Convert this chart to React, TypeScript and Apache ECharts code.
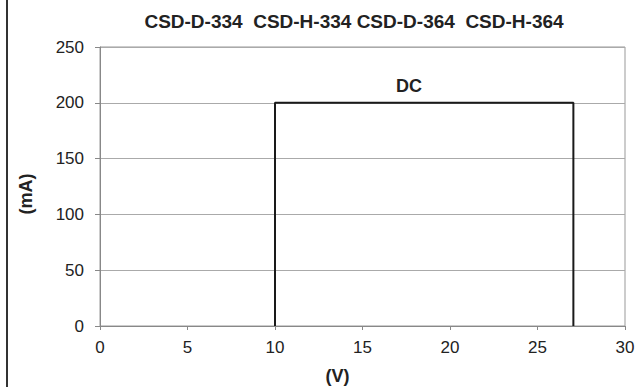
import React, { useEffect, useRef } from "react";
import * as echarts from "echarts";

const titleText = "CSD-D-334  CSD-H-334 CSD-D-364  CSD-H-364";
const voltage = [10, 10, 27.05, 27.05];
const current = [0, 200, 200, 0];
const xTicks = [0, 5, 10, 15, 20, 25, 30];
const yTicks = [0, 50, 100, 150, 200, 250];
const regionLabel = "DC";

const FONT = "'Liberation Sans', Arial, sans-serif";

export default function App() {
  const ref = useRef<HTMLDivElement>(null);
  useEffect(() => {
    if (!ref.current) return;
    const chart = echarts.init(ref.current, undefined, { renderer: "svg" });
    chart.setOption({
      animation: false,
      backgroundColor: "#ffffff",
      textStyle: { fontFamily: FONT },
      grid: {
        left: 100,
        right: 12,
        top: 47,
        bottom: 61,
        show: true,
        borderColor: "#999",
        borderWidth: 1,
        outerBoundsMode: "none",
        containLabel: false,
      },
      xAxis: {
        type: "value",
        min: xTicks[0],
        max: xTicks[xTicks.length - 1],
        interval: 5,
        name: "(V)",
        nameLocation: "middle",
        nameGap: 41,
        nameTextStyle: {
          fontFamily: FONT,
          fontSize: 18,
          fontWeight: "bold",
          color: "#222",
          padding: [0, 50, 0, 0],
        },
        axisLine: { show: true, onZero: false, lineStyle: { color: "#888", width: 1 } },
        axisTick: { show: true, length: 4, lineStyle: { color: "#888" } },
        axisLabel: { fontFamily: FONT, fontSize: 17, color: "#222", margin: 13 },
        splitLine: { show: false },
      },
      yAxis: {
        type: "value",
        min: yTicks[0],
        max: yTicks[yTicks.length - 1],
        interval: 50,
        name: "(mA)",
        nameLocation: "middle",
        nameRotate: 90,
        nameGap: 65,
        nameTextStyle: {
          fontFamily: FONT,
          fontSize: 18,
          fontWeight: "bold",
          color: "#222",
          padding: [0, 15, 0, 0],
        },
        axisLine: { show: true, lineStyle: { color: "#888", width: 1 } },
        axisTick: { show: true, length: 5, lineStyle: { color: "#888" } },
        axisLabel: { fontFamily: FONT, fontSize: 17, color: "#222", margin: 16 },
        splitLine: { show: true, lineStyle: { color: "#aaa", width: 1 } },
      },
      series: [
        {
          type: "line",
          data: voltage.map((v, i) => [v, current[i]]),
          showSymbol: false,
          symbol: "none",
          lineStyle: { color: "#1a1a1a", width: 2 },
          z: 5,
        },
      ],
      graphic: [
        {
          type: "line",
          shape: { x1: 7, y1: 0, x2: 7, y2: 387 },
          style: { stroke: "#333", lineWidth: 2 },
        },
        {
          type: "text",
          x: 354,
          y: 21,
          style: {
            text: titleText,
            fontFamily: FONT,
            fontSize: 19,
            fontWeight: "bold",
            fill: "#222",
            textAlign: "center",
            textVerticalAlign: "middle",
          },
        },
        {
          type: "text",
          x: 409,
          y: 86,
          style: {
            text: regionLabel,
            fontFamily: FONT,
            fontSize: 18,
            fontWeight: "bold",
            fill: "#222",
            textAlign: "center",
            textVerticalAlign: "middle",
          },
        },
      ],
    });
    return () => chart.dispose();
  }, []);
  return <div ref={ref} style={{ width: 637, height: 387, position: "absolute", left: 0, top: 0 }} />;
}
